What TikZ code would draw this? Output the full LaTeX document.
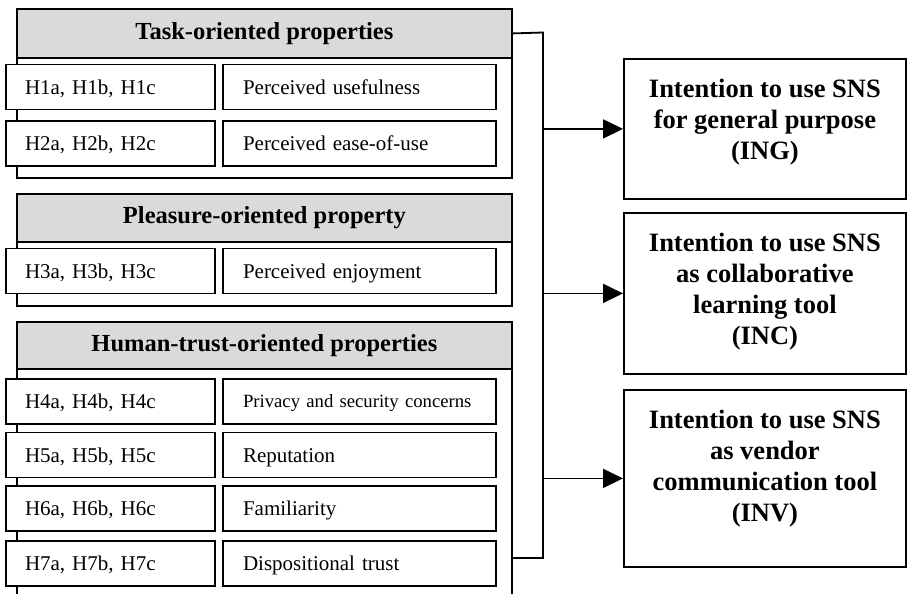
\documentclass[tikz,border=0pt]{standalone}
\usepackage{fontspec}
\setmainfont{Liberation Serif}
\usetikzlibrary{arrows.meta}
\definecolor{hdrgray}{RGB}{218,218,218}
\begin{document}
\begin{tikzpicture}[x=1pt,y=-1pt,line width=1.8pt,
  hdr/.style={draw,fill=hdrgray,anchor=north west,minimum width=495pt,minimum height=49pt,inner sep=0pt,
    text height=17pt,text depth=5pt,font=\fontsize{24.5}{28}\selectfont\bfseries},
  panel/.style={draw,fill=white,anchor=north west,minimum width=495pt,inner sep=0pt},
  hyp/.style={draw,fill=white,minimum height=45pt,text width=171pt,inner xsep=19pt,inner ysep=0pt,align=left,
    text height=18pt,text depth=4pt,font=\fontsize{21}{24}\selectfont},
  prop/.style={draw,fill=white,minimum height=45pt,text width=233pt,inner xsep=20pt,inner ysep=0pt,align=left,
    text height=18pt,text depth=4pt,font=\fontsize{21}{24}\selectfont},
  target/.style={draw,fill=white,anchor=north west,minimum width=282pt,inner sep=0pt},
  tlabel/.style={anchor=north,inner sep=0pt,align=center,yshift=-20pt,
    font=\fontsize{26.5}{31}\selectfont\bfseries},
  link/.style={-{Triangle[length=20pt,width=19pt]}}]
\useasboundingbox (0,0) rectangle (910,594);
\clip (0,0) rectangle (910,594);

% task-oriented group
\node[panel,minimum height=120pt] (taskpanel) at (16,57) {};
\node[hdr] (taskhdr) at (16,8) {Task-oriented properties};
% pleasure-oriented group
\node[panel,minimum height=64pt] (pleaspanel) at (16,241) {};
\node[hdr,minimum height=48pt] (pleashdr) at (16,193) {Pleasure-oriented property};
% human-trust-oriented group (runs past the lower edge)
\node[panel,minimum height=240pt] (trustpanel) at (16,368) {};
\node[hdr,minimum height=47pt] (trusthdr) at (16,321) {Human-trust-oriented properties};

% hypothesis rows
\foreach \n/\y/\h/\p in {1/87/{H1a, H1b, H1c}/Perceived usefulness,
                         2/143.5/{H2a, H2b, H2c}/Perceived ease-of-use,
                         3/271/{H3a, H3b, H3c}/Perceived enjoyment,
                         5/455/{H5a, H5b, H5c}/Reputation,
                         6/508.5/{H6a, H6b, H6c}/Familiarity,
                         7/563.5/{H7a, H7b, H7c}/Dispositional trust}{
  \node[hyp] (h\n) at (110.5,\y) {\h};
  \node[prop] (p\n) at (359.5,\y) {\p};
}
\node[hyp] (h4) at (110.5,401.5) {H4a, H4b, H4c};
\node[prop,font=\fontsize{18.7}{22}\selectfont,text height=16pt] (p4) at (359.5,401.5) {Privacy and security concerns};

% intention boxes
\node[target,minimum height=140pt] (ing) at (623,58) {};
\node[tlabel] (ingtext) at (ing.north) {Intention to use SNS\\for general purpose\\(ING)};
\node[target,minimum height=161pt] (inc) at (623,212) {};
\node[tlabel] (inctext) at (inc.north) {Intention to use SNS\\as collaborative\\learning tool\\(INC)};
\node[target,minimum height=177pt] (inv) at (623,389) {};
\node[tlabel] (invtext) at (inv.north) {Intention to use SNS\\as vendor\\communication tool\\(INV)};

% collecting bus and arrows
\coordinate (bustop) at (543,32.5);
\coordinate (busbot) at (543,558);
\draw (taskhdr.east) -- (bustop) -- (busbot) -- (busbot -| trustpanel.east);
\draw[link] (ing.west -| bustop) -- (ing.west);
\draw[link] (inc.west -| bustop) -- (inc.west);
\draw[link] (inv.west -| bustop) -- (inv.west);
\end{tikzpicture}
\end{document}
